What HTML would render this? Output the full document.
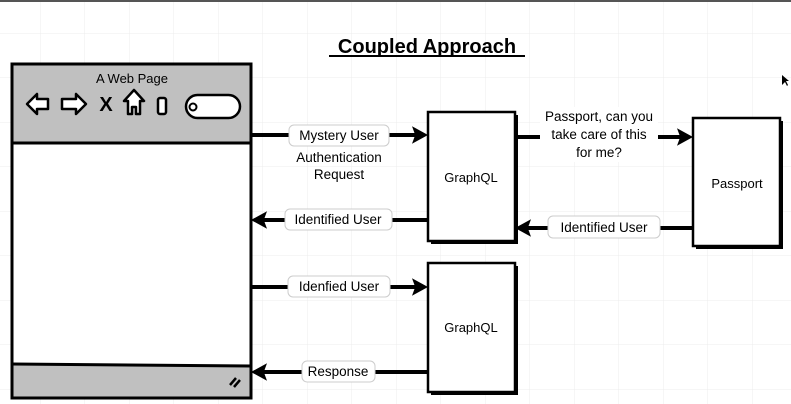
<!DOCTYPE html>
<html><head><style>
html,body{margin:0;padding:0;background:#fff;}
svg{display:block;font-family:"Liberation Sans",sans-serif;}
</style></head><body>
<svg width="791" height="404" viewBox="0 0 791 404" xmlns="http://www.w3.org/2000/svg">
<defs>
<pattern id="g" width="44.5" height="44.5" patternUnits="userSpaceOnUse" x="-4" y="-11">
<path d="M44.5 0V44.5M0 44.5H44.5" stroke="#ececec" stroke-width="1" fill="none"/>
</pattern>
<marker id="ah" markerWidth="4" markerHeight="4.4" refX="3" refY="2.2" orient="auto" markerUnits="strokeWidth">
<path d="M0,0 L4,2.2 L0,4.4 L0.8,2.2 Z" fill="#000"/>
</marker>
</defs>
<rect width="791" height="404" fill="#fff"/>
<rect width="791" height="404" fill="url(#g)"/>
<rect x="0" y="0" width="791" height="2" fill="#555"/>

<text x="427" y="53" font-size="20" font-weight="bold" text-anchor="middle">Coupled Approach</text>
<rect x="329" y="55" width="196" height="2" fill="#000"/>

<rect x="12" y="64" width="239" height="334" fill="#fff" stroke="#000" stroke-width="3"/>
<rect x="13.5" y="65.5" width="236" height="77" fill="#c0c0c0"/>
<line x1="12" y1="143" x2="251" y2="143" stroke="#000" stroke-width="3"/>
<rect x="13.5" y="365" width="236" height="31.5" fill="#c0c0c0"/>
<line x1="12" y1="364" x2="251" y2="366" stroke="#000" stroke-width="3"/>
<text x="132" y="83" font-size="13" text-anchor="middle">A Web Page</text>
<path d="M27 104 L37 94 V99 H48 V109 H37 V114 Z" fill="#fff" stroke="#000" stroke-width="2.5" stroke-linejoin="round"/>
<path d="M86 104 L76 94 V99 H62 V109 H76 V114 Z" fill="#fff" stroke="#000" stroke-width="2.5" stroke-linejoin="round"/>
<text x="106" y="111" font-size="20" font-weight="bold" text-anchor="middle">X</text>
<path d="M134 90 L144 101 H140 V114 H136 V107 H132 V114 H128 V101 H124 Z" fill="#fff" stroke="#000" stroke-width="2.5" stroke-linejoin="round"/>
<rect x="158" y="98" width="8" height="16" rx="2" fill="#fff" stroke="#000" stroke-width="2.5"/>
<rect x="186" y="95" width="54" height="23" rx="11.5" fill="#fff" stroke="#000" stroke-width="2.5"/>
<circle cx="193" cy="107" r="3.5" fill="none" stroke="#000" stroke-width="2"/>
<path d="M230 385 L236 378 M234 387 L240 380" stroke="#000" stroke-width="2.5"/>

<rect x="431" y="115" width="87" height="129" fill="#000"/>
<rect x="428" y="112" width="87" height="129" fill="#fff" stroke="#000" stroke-width="2.5"/>
<text x="471" y="182" font-size="13" text-anchor="middle">GraphQL</text>
<rect x="696" y="121" width="87" height="128" fill="#000"/>
<rect x="693" y="118" width="87" height="128" fill="#fff" stroke="#000" stroke-width="2.5"/>
<text x="737" y="188" font-size="13" text-anchor="middle">Passport</text>
<rect x="431" y="266" width="87" height="129" fill="#000"/>
<rect x="428" y="263" width="87" height="129" fill="#fff" stroke="#000" stroke-width="2.5"/>
<text x="471" y="332" font-size="13" text-anchor="middle">GraphQL</text>

<g stroke="#000" stroke-width="4" fill="none">
<line x1="252" y1="135" x2="424" y2="135" marker-end="url(#ah)"/>
<line x1="427" y1="220" x2="255" y2="220" marker-end="url(#ah)"/>
<line x1="516" y1="137" x2="689" y2="137" marker-end="url(#ah)"/>
<line x1="692" y1="228" x2="519" y2="228" marker-end="url(#ah)"/>
<line x1="252" y1="287" x2="424" y2="287" marker-end="url(#ah)"/>
<line x1="427" y1="372" x2="255" y2="372" marker-end="url(#ah)"/>
</g>

<g font-size="13.5" text-anchor="middle">
<rect x="289" y="125" width="100" height="21" rx="5" fill="#fff" stroke="#ccc"/>
<text x="339" y="140">Mystery User</text>
<text x="339" y="162">Authentication</text>
<text x="339" y="179">Request</text>
<rect x="285" y="209" width="107" height="21" rx="5" fill="#fff" stroke="#ccc"/>
<text x="338" y="224">Identified User</text>
<rect x="540" y="107" width="118" height="55" fill="#fff"/>
<text x="599" y="121">Passport, can you</text>
<text x="599" y="139">take care of this</text>
<text x="599" y="157">for me?</text>
<rect x="548" y="216" width="112" height="22" rx="5" fill="#fff" stroke="#ccc"/>
<text x="604" y="232">Identified User</text>
<rect x="288" y="276" width="102" height="21" rx="5" fill="#fff" stroke="#ccc"/>
<text x="339" y="291">Idenfied User</text>
<rect x="302" y="361" width="73" height="21" rx="5" fill="#fff" stroke="#ccc"/>
<text x="338" y="376">Response</text>
</g>
<path d="M782 75 L782 85 L785 82 L787 86 L788 85 L786 81 L789 81 Z" fill="#000"/>
</svg>
</body></html>
